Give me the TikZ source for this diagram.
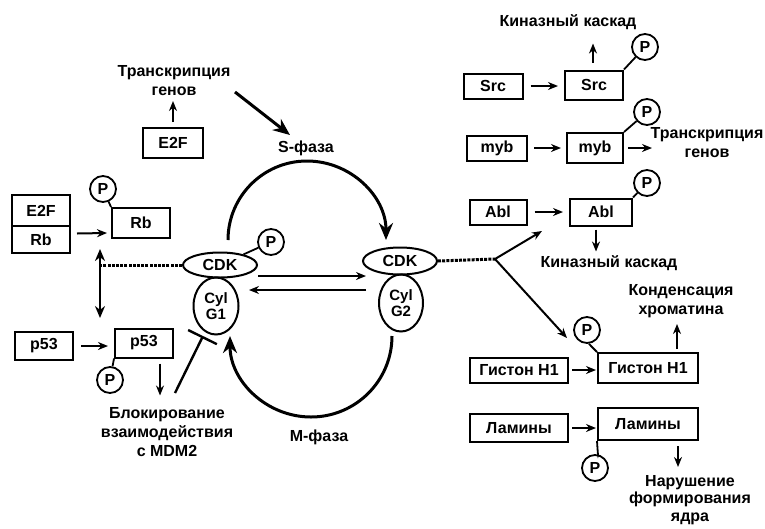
\documentclass[tikz,border=0pt]{standalone}
\usepackage{fontspec}
\setmainfont{Liberation Sans}
\usetikzlibrary{shapes.geometric,arrows.meta,calc}
\begin{document}
\begin{tikzpicture}[x=1pt,y=-1pt,
 every node/.style={font=\bfseries\fontsize{16}{19}\selectfont},
 bx/.style={draw,line width=2pt,inner sep=0pt,minimum height=26pt},
 pc/.style={draw,circle,line width=1.8pt,minimum size=26pt,inner sep=0pt},
 ell/.style={draw,ellipse,line width=2pt,inner sep=0pt},
 txt/.style={align=center,inner sep=1pt},
 arr/.style={line width=2pt,-{Stealth[length=10pt,width=8pt]}},
 big/.style={line width=3pt,-{Stealth[length=17pt,width=14pt]}},
 dsh/.style={line width=3pt,dash pattern=on 3pt off 1.2pt},
 ln/.style={line width=1.8pt}]
\useasboundingbox (0,0) rectangle (765,528);

% ---- top left
\node[txt] (tr1) at (174,81) {Транскрипция\\генов};
\node[bx,minimum width=60pt,minimum height=30pt] (e2f) at (173,143) {E2F};
\draw[arr,shorten <=5pt] (e2f.north) -- ($(e2f.north)+(0,-26)$);
\node[txt] (sph) at (306,148) {S-фаза};
\coordinate (s1) at (235,92);
\coordinate (s2) at (290,135);
\draw[big] (s1) -- (s2);

% ---- left Rb
\node[bx,outer sep=0pt,minimum width=58pt,minimum height=31pt] (e2fa) at (41,210.5) {E2F};
\node[bx,outer sep=0pt,minimum width=58pt,minimum height=27pt,anchor=north] (rba) at (e2fa.south) {Rb};
\node[bx,minimum width=58pt,minimum height=30pt] (rb2) at (141,223) {Rb};
\draw[arr] ($(rba.east)+(7,-6)$) -- ($(rb2.west)+(-4,10)$);
\node[pc] (prb) at (103,189) {P};
\draw[ln] (prb) -- (rb2.north west);

% ---- CDK complexes
\node[ell,minimum width=74pt,minimum height=25pt] (cdk1) at (220,265) {CDK};
\node[ell,minimum width=45pt,minimum height=57pt,align=center,font=\bfseries\fontsize{15}{16}\selectfont] (cyl1) at (216,306) {Cyl\\G1};
\node[pc] (pcdk) at (271,242) {P};
\draw[ln] (pcdk) -- (cdk1);
\node[ell,minimum width=74pt,minimum height=27pt] (cdk2) at (400,261) {CDK};
\node[ell,minimum width=44pt,minimum height=57pt,align=center,font=\bfseries\fontsize{15}{16}\selectfont] (cyl2) at (401,303) {Cyl\\G2};

\coordinate (ha) at (258,276);
\coordinate (hb) at (366,276);
\coordinate (hc) at (366,290);
\coordinate (hd) at (249,290);
\draw[arr] (ha) -- (hb);
\draw[arr] (hc) -- (hd);

\coordinate (sA) at (228,240);
\draw[big] (sA) arc[start angle=180,end angle=360,radius=79];
\coordinate (mA) at (392,336);
\draw[big] (mA) arc[start angle=0,end angle=180,radius=81];
\node[txt] (mph) at (319,437) {M-фаза};

% ---- left vertical links
\coordinate (vt) at (100,249);
\coordinate (vb) at (100,318);
\draw[line width=2.2pt,{Stealth[length=12pt,width=10pt]}-{Stealth[length=12pt,width=10pt]}] (vt) -- (vb);
\coordinate (jL) at (100,265);
\draw[dsh] (cdk1.west) -- (jL);

% ---- p53
\node[bx,minimum width=58pt,minimum height=28pt] (p53a) at (44,346) {p53};
\node[bx,minimum width=58pt,minimum height=29pt] (p53b) at (144,343) {p53};
\draw[arr,shorten <=7pt,shorten >=6pt] (p53a.east) -- (p53a.east -| p53b.west);
\node[pc] (pp53) at (110,380) {P};
\draw[ln] (pp53) -- (p53b.south west);
\node[txt] (blk) at (167,432) {Блокирование\\взаимодействия\\с MDM2};
\draw[arr] ($(p53b.south)+(16,5)$) -- ($(p53b.south)+(16,37)$);
\coordinate (ib) at (175,393);
\coordinate (it) at (203,336);
\draw[line width=2.4pt,-{Bar[width=32pt,line width=2.4pt]}] (ib) -- (it);

% ---- right: Src
\node[txt] (kk1) at (568,22) {Киназный каскад};
\node[bx,minimum width=59pt,minimum height=25pt] (src1) at (493,86) {Src};
\node[bx,minimum width=58pt,minimum height=29pt] (src2) at (594,85) {Src};
\draw[arr,shorten <=7pt,shorten >=6pt] (src1.east) -- (src1.east -| src2.west);
\draw[arr] ($(src2.north)+(-1,-7)$) -- ($(src2.north)+(-1,-26)$);
\node[pc] (psrc) at (645,47) {P};
\draw[ln] (psrc) -- (src2.north east);

% ---- myb
\node[bx,minimum width=60pt,minimum height=25pt] (myb1) at (497,148) {myb};
\node[bx,minimum width=56pt,minimum height=30pt] (myb2) at (595,148) {myb};
\draw[arr,shorten <=6pt,shorten >=5pt] (myb1.east) -- (myb1.east -| myb2.west);
\draw[arr] ($(myb2.east)+(4,0)$) -- ($(myb2.east)+(28,0)$);
\node[pc] (pmyb) at (647,112) {P};
\draw[ln] (pmyb) -- (myb2.north east);
\node[txt] (tr2) at (707,143) {Транскрипция\\генов};

% ---- Abl
\node[bx,minimum width=57pt,minimum height=25pt] (abl1) at (498,212) {Abl};
\node[bx,minimum width=62pt,minimum height=27pt] (abl2) at (601,212) {Abl};
\draw[arr,shorten <=7pt,shorten >=6pt] (abl1.east) -- (abl1.east -| abl2.west);
\node[pc] (pabl) at (647,183) {P};
\draw[ln] (pabl) -- (abl2.north east);
\draw[arr] ($(abl2.south)+(-5,3)$) -- ($(abl2.south)+(-5,25)$);
\node[txt] (kk2) at (609,263) {Киназный каскад};

\coordinate (jR) at (495,259);
\draw[dsh] (cdk2.east) -- (jR);
\coordinate (at1) at (542,231);
\coordinate (at2) at (567,338);
\draw[arr] (jR) -- (at1);
\draw[arr] (jR) -- (at2);

% ---- Histone H1
\node[txt] (kch) at (681,301) {Конденсация\\хроматина};
\node[bx,minimum width=98pt,minimum height=25pt] (h1a) at (519,370) {Гистон H1};
\node[bx,minimum width=100pt,minimum height=30pt] (h1b) at (648,368) {Гистон H1};
\draw[arr,shorten <=3pt,shorten >=1pt] (h1a.east) -- (h1a.east -| h1b.west);
\draw[arr] ($(h1b.north)+(29,-3)$) -- ($(h1b.north)+(29,-28)$);
\node[pc] (ph1) at (587,330) {P};
\draw[ln] (ph1) .. controls +(2,14) .. (h1b.north west);

% ---- Lamins
\node[bx,minimum width=98pt,minimum height=28pt] (lam1) at (519,428) {Ламины};
\node[bx,minimum width=100pt,minimum height=32pt] (lam2) at (648,424) {Ламины};
\draw[arr,shorten <=3pt,shorten >=1pt] (lam1.east) -- (lam1.east -| lam2.west);
\node[pc] (plam) at (595,468) {P};
\draw[ln] (plam) .. controls +(3,-12) .. (lam2.south west);
\draw[arr] ($(lam2.south)+(30,5)$) -- ($(lam2.south)+(30,26)$);
\node[txt,font=\bfseries\fontsize{16}{17.5}\selectfont] (nar) at (690,500) {Нарушение\\формирования\\ядра};
\end{tikzpicture}
\end{document}
